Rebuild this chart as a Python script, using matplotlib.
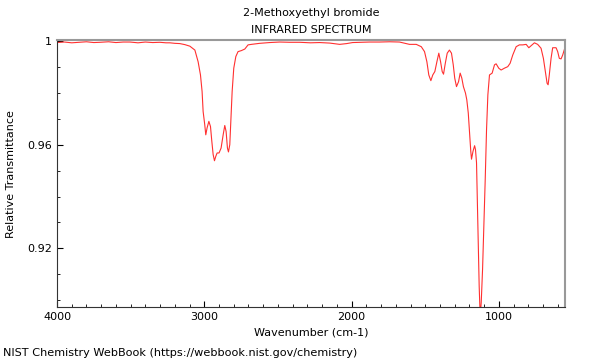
import matplotlib

matplotlib.use("Agg")
from matplotlib import pyplot as plt
from matplotlib.ticker import MultipleLocator
import numpy as np

# spectrum (wavenumber cm-1, relative transmittance)
wavenumber = [
    4000, 3950, 3900, 3850, 3800, 3750, 3708, 3650, 3600, 3550, 3505, 3450,
    3400, 3350, 3302, 3260, 3234, 3200, 3166, 3132, 3098, 3064, 3042, 3026,
    3015, 3008, 2997, 2990, 2981, 2969, 2958, 2949, 2940, 2931, 2922, 2913,
    2900, 2886, 2872, 2861, 2852, 2843, 2836, 2827, 2820, 2811, 2800, 2786,
    2771, 2748, 2725, 2703, 2680, 2624, 2556, 2488, 2420, 2352, 2280, 2217,
    2149, 2110, 2081, 2034, 1993, 1940, 1878, 1810, 1742, 1675, 1607, 1561,
    1527, 1505, 1489, 1476, 1462, 1449, 1435, 1421, 1408, 1396, 1385, 1376,
    1364, 1351, 1336, 1322, 1310, 1300, 1288, 1274, 1263, 1252, 1241, 1227,
    1218, 1208, 1200, 1191, 1186, 1176, 1165, 1159, 1152, 1147, 1140, 1134,
    1127, 1120, 1111, 1103, 1093, 1084, 1075, 1064, 1046, 1030, 1019, 1001,
    985, 963, 940, 924, 906, 883, 861, 838, 815, 797, 775, 759, 737, 714,
    698, 685, 673, 666, 658, 646, 635, 612, 601, 590, 578, 567, 553, 550,
]
transmittance = [
    0.9994, 0.9996, 0.9993, 0.9995, 0.9997, 0.9994, 0.9995, 0.9997, 0.9994,
    0.9996, 0.9996, 0.9993, 0.9996, 0.9994, 0.9995, 0.9993, 0.9993, 0.9991,
    0.9990, 0.9986, 0.9980, 0.9965, 0.9920, 0.9869, 0.9805, 0.9728, 0.9677,
    0.9638, 0.9665, 0.9690, 0.9670, 0.9613, 0.9562, 0.9538, 0.9555, 0.9568,
    0.9568, 0.9587, 0.9638, 0.9674, 0.9651, 0.9587, 0.9572, 0.9600, 0.9690,
    0.9805, 0.9895, 0.9940, 0.9959, 0.9963, 0.9969, 0.9985, 0.9987, 0.9991,
    0.9994, 0.9996, 0.9995, 0.9995, 0.9993, 0.9994, 0.9992, 0.9989, 0.9987,
    0.9990, 0.9994, 0.9995, 0.9996, 0.9996, 0.9997, 0.9996, 0.9987, 0.9987,
    0.9978, 0.9959, 0.9920, 0.9869, 0.9847, 0.9869, 0.9882, 0.9920, 0.9953,
    0.9920, 0.9882, 0.9872, 0.9914, 0.9953, 0.9965, 0.9953, 0.9908, 0.9857,
    0.9824, 0.9843, 0.9876, 0.9857, 0.9824, 0.9799, 0.9773, 0.9722, 0.9651,
    0.9574, 0.9544, 0.9574, 0.9596, 0.9581, 0.9530, 0.9401, 0.9209, 0.9055,
    0.8935, 0.8992, 0.9119, 0.9273, 0.9465, 0.9658, 0.9792, 0.9869, 0.9876,
    0.9908, 0.9912, 0.9895, 0.9888, 0.9895, 0.9901, 0.9914, 0.9946, 0.9978,
    0.9985, 0.9985, 0.9987, 0.9974, 0.9985, 0.9993, 0.9987, 0.9972, 0.9933,
    0.9882, 0.9837, 0.9831, 0.9869, 0.9933, 0.9974, 0.9974, 0.9959, 0.9933,
    0.9931, 0.9946, 0.9972, 0.9975,
]
y_ticks = [0.92, 0.96, 1.0]
y_tick_labels = ["0.92", "0.96", "1"]
x_ticks = [4000, 3000, 2000, 1000]

plt.rcParams["font.family"] = ["DejaVu Sans"]
plt.rcParams["font.size"] = 8

fig = plt.figure(figsize=(6, 3.6), dpi=100)
ax = fig.add_axes([0.095, 0.146, 0.847, 0.743])
ax.plot(np.array(wavenumber), np.array(transmittance), color="#ff3030", lw=0.8)

ax.set_xlim(4000, 550)
ax.set_ylim(0.8972, 1.0004)
ax.set_xticks(x_ticks)
ax.xaxis.set_minor_locator(MultipleLocator(100))
ax.set_yticks(y_ticks)
ax.set_yticklabels(y_tick_labels)
ax.yaxis.set_minor_locator(MultipleLocator(0.01))
ax.tick_params(which="both", direction="in", labelsize=8)
ax.tick_params(which="major", length=4)
ax.tick_params(which="minor", length=2)

for side in ["top", "right"]:
    ax.spines[side].set_color("#999999")
    ax.spines[side].set_linewidth(1.5)
for side in ["left", "bottom"]:
    ax.spines[side].set_color("#333333")

ax.set_xlabel("Wavenumber (cm-1)", fontsize=8, labelpad=3.5)
ax.set_ylabel("Relative Transmittance", fontsize=8, labelpad=8)

fig.text(0.518, 0.963, "2-Methoxyethyl bromide", ha="center", va="center", fontsize=8)
fig.text(0.518, 0.916, "INFRARED SPECTRUM", ha="center", va="center", fontsize=8)
fig.text(0.005, 0.02, "NIST Chemistry WebBook (https://webbook.nist.gov/chemistry)",
         ha="left", va="center", fontsize=8.15)

fig.savefig("out.png")
plt.close(fig)
